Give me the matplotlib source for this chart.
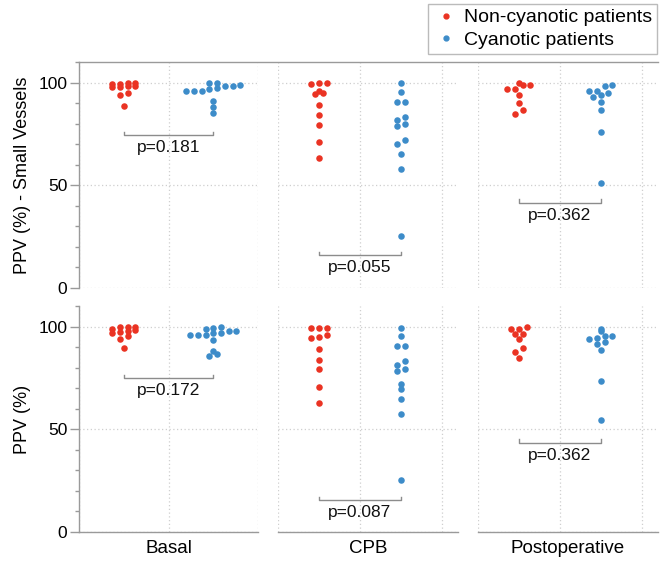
import matplotlib
matplotlib.use("Agg")
import matplotlib.pyplot as plt
from matplotlib.lines import Line2D
from matplotlib.ticker import MultipleLocator, FixedLocator
import numpy as np

plt.rcParams['font.family'] = ['Liberation Sans', 'DejaVu Sans']

# ---------------- data ----------------
phases = ["Basal", "CPB", "Postoperative"]
groups = ["Non-cyanotic patients", "Cyanotic patients"]
row_labels = ["PPV (%) - Small Vessels", "PPV (%)"]

# Small vessels (top row)
sv_basal_non = [99.6, 99.6, 99.5, 99.5, 98.2, 98.2, 98.0, 98.0, 94.8, 94.0, 88.8]
sv_basal_cya = [100.0, 99.7, 98.9, 98.1, 98.1, 97.3, 96.8, 96.1, 96.1, 96.1, 91.1, 88.3, 85.1]
sv_cpb_non = [99.7, 99.7, 99.4, 96.1, 95.0, 94.6, 89.3, 84.3, 79.4, 71.1, 63.2]
sv_cpb_cya = [99.7, 95.5, 90.7, 90.5, 83.3, 81.7, 79.7, 78.9, 71.9, 70.1, 65.1, 57.8, 25.5]
sv_post_non = [100.0, 98.9, 98.9, 96.9, 96.9, 94.0, 90.0, 86.7, 84.9]
sv_post_cya = [98.9, 98.1, 96.1, 96.0, 94.8, 93.9, 93.1, 90.7, 86.7, 76.0, 51.0]

# All vessels (bottom row)
pv_basal_non = [99.9, 99.9, 99.9, 99.0, 98.2, 97.7, 97.4, 96.9, 95.6, 93.7, 89.6]
pv_basal_cya = [99.9, 99.4, 99.0, 97.7, 97.7, 96.9, 96.9, 96.1, 96.0, 96.0, 93.3, 87.9, 86.7, 85.5]
pv_cpb_non = [99.5, 99.5, 99.5, 95.9, 94.8, 94.3, 89.1, 83.9, 79.2, 70.6, 62.8]
pv_cpb_cya = [99.5, 95.3, 90.4, 90.4, 83.1, 81.5, 79.5, 78.5, 72.0, 69.8, 64.7, 57.2, 25.2]
pv_post_non = [99.7, 99.0, 99.0, 96.6, 96.6, 93.7, 89.6, 87.7, 84.5]
pv_post_cya = [99.0, 97.6, 95.6, 95.6, 94.5, 93.7, 92.7, 91.6, 88.6, 73.7, 54.6]

sv_p = ["p=0.181", "p=0.055", "p=0.362"]
pv_p = ["p=0.172", "p=0.087", "p=0.362"]
sv_bracket_y = [74.5, 16.0, 41.5]
pv_bracket_y = [75.0, 15.5, 43.5]

data = [
    [(sv_basal_non, sv_basal_cya), (sv_cpb_non, sv_cpb_cya), (sv_post_non, sv_post_cya)],
    [(pv_basal_non, pv_basal_cya), (pv_cpb_non, pv_cpb_cya), (pv_post_non, pv_post_cya)],
]
pvals = [sv_p, pv_p]
brackets = [sv_bracket_y, pv_bracket_y]

RED = "#ea3323"
BLUE = "#3d8cc9"
GRID = "#cfcfcf"
SPINE = "#9a9a9a"

BIN_H = 3.0        # vertical bin height (data units) for side-by-side placement
DOT_STEP_PX = 7.7  # horizontal distance between neighbours in a row (pixels)
DOT_PT = 4.7       # marker diameter (points)


def row_offsets(vals, bin_h, step):
    """Prism-like column scatter: points in the same value bin form a centred row,
    ordered by value from left to right."""
    vals = np.asarray(vals, dtype=float)
    bins = np.floor(vals / bin_h).astype(int)
    off = np.zeros(len(vals))
    for b in np.unique(bins):
        idx = np.where(bins == b)[0]
        idx = idx[np.argsort(vals[idx], kind="stable")]
        n = len(idx)
        for k, i in enumerate(idx):
            off[i] = (k - (n - 1) / 2.0) * step
    return off


W, H = 662, 561
fig = plt.figure(figsize=(W / 100, H / 100), dpi=100)

col_x = [(79, 258), (278, 458), (478, 658)]
row_y = [(62, 288), (306, 532)]
xlims = [(-0.5, 1.5), (-0.5, 1.7), (-0.5, 1.7)]

for r in range(2):
    for c in range(3):
        x0, x1 = col_x[c]
        y0, y1 = row_y[r]
        ax = fig.add_axes([x0 / W, 1 - y1 / H, (x1 - x0) / W, (y1 - y0) / H])
        ax.set_xlim(*xlims[c])
        ax.set_ylim(0, 110)
        px_per_x = (ax.transData.transform((1, 0))[0] - ax.transData.transform((0, 0))[0])
        step = DOT_STEP_PX / px_per_x
        for gi, (vals, col) in enumerate(zip(data[r][c], [RED, BLUE])):
            off = row_offsets(vals, BIN_H, step)
            ax.scatter(gi + off, vals, s=DOT_PT ** 2, color=col, linewidths=0,
                       zorder=3, clip_on=False)
        # grid
        ax.xaxis.set_major_locator(FixedLocator([-0.5, 0.5, 1.5]))
        ax.yaxis.set_major_locator(FixedLocator([0, 50, 100]))
        ax.grid(True, which="major", color=GRID, linestyle=(0, (1, 2)), linewidth=0.9)
        ax.set_axisbelow(True)
        ax.tick_params(axis="x", bottom=False, labelbottom=False)
        for s in ["top", "right", "left", "bottom"]:
            ax.spines[s].set_visible(False)
        if r == 1:
            ax.spines["bottom"].set_visible(True)
            ax.spines["bottom"].set_color(SPINE)
            ax.spines["bottom"].set_linewidth(1.0)
        if c == 0:
            ax.spines["left"].set_visible(True)
            ax.spines["left"].set_color(SPINE)
            ax.spines["left"].set_linewidth(1.0)
            ax.yaxis.set_minor_locator(MultipleLocator(10))
            ax.tick_params(axis="y", which="major", length=6.5, width=1.0, color=SPINE,
                           labelsize=12.5, pad=2)
            ax.tick_params(axis="y", which="minor", length=3, width=1.0, color=SPINE)
            ax.set_ylabel(row_labels[r], fontsize=13, labelpad=5)
        else:
            ax.tick_params(axis="y", which="both", left=False, labelleft=False)
        if r == 1:
            ax.set_xlabel(phases[c], fontsize=13.5, labelpad=6)
        # bracket with p-value
        by = brackets[r][c]
        ax.plot([0, 0, 1, 1], [by + 1.6, by, by, by + 1.6], color="#8c8c8c",
                linewidth=1.0, zorder=2, clip_on=False)
        ax.text(0.5, by - 2.6, pvals[r][c], ha="center", va="top", fontsize=12.5,
                color="#111111")

# top frame line across the top row
fig.add_artist(Line2D([79 / W, 658 / W], [1 - 62 / H, 1 - 62 / H], color=SPINE, linewidth=1.0))

handles = [Line2D([], [], linestyle="none", marker="o", markersize=3.5, color=RED),
           Line2D([], [], linestyle="none", marker="o", markersize=3.5, color=BLUE)]
leg = fig.legend(handles, groups, loc="upper right", bbox_to_anchor=(657 / W, 1 - 4 / H),
                 fontsize=14, frameon=True, fancybox=False, edgecolor="#aaaaaa",
                 handletextpad=0.25, borderpad=0.25, labelspacing=0.25, handlelength=1.36,
                 borderaxespad=0)
leg.get_frame().set_linewidth(1.0)

fig.savefig("out.png", dpi=100)
